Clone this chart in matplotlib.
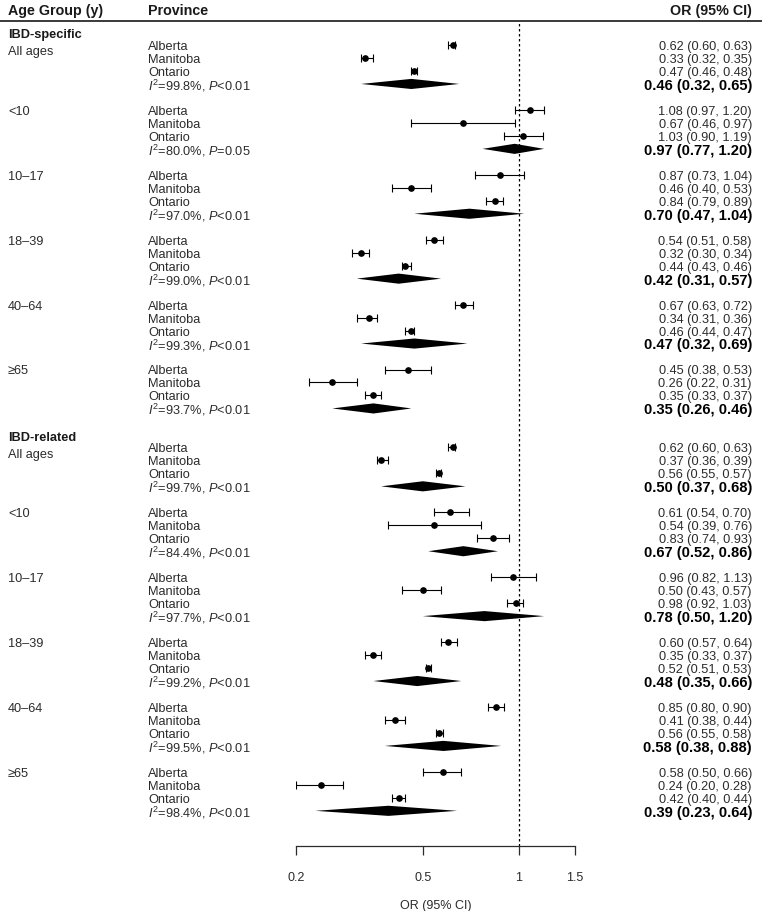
import matplotlib.pyplot as plt
import matplotlib.transforms as mtransforms
from matplotlib.lines import Line2D
from matplotlib.ticker import NullLocator

plt.rcParams['font.family'] = ['Liberation Sans', 'DejaVu Sans']
plt.rcParams['mathtext.fontset'] = 'custom'
plt.rcParams['mathtext.rm'] = 'Liberation Sans'
plt.rcParams['mathtext.it'] = 'Liberation Sans:italic'
plt.rcParams['mathtext.bf'] = 'Liberation Sans:bold'

outcomes = ['IBD-specific', 'IBD-related']
age_groups = ['All ages', '<10', '10–17', '18–39', '40–64', '≥65']
provinces = ['Alberta', 'Manitoba', 'Ontario']

# IBD-specific: rows = age groups, columns = Alberta, Manitoba, Ontario
spec_or = [[0.62, 0.33, 0.47], [1.08, 0.67, 1.03], [0.87, 0.46, 0.84],
           [0.54, 0.32, 0.44], [0.67, 0.34, 0.46], [0.45, 0.26, 0.35]]
spec_lo = [[0.60, 0.32, 0.46], [0.97, 0.46, 0.90], [0.73, 0.40, 0.79],
           [0.51, 0.30, 0.43], [0.63, 0.31, 0.44], [0.38, 0.22, 0.33]]
spec_hi = [[0.63, 0.35, 0.48], [1.20, 0.97, 1.19], [1.04, 0.53, 0.89],
           [0.58, 0.34, 0.46], [0.72, 0.36, 0.47], [0.53, 0.31, 0.37]]
spec_pool = [0.46, 0.97, 0.70, 0.42, 0.47, 0.35]
spec_pool_lo = [0.32, 0.77, 0.47, 0.31, 0.32, 0.26]
spec_pool_hi = [0.65, 1.20, 1.04, 0.57, 0.69, 0.46]
spec_i2 = [99.8, 80.0, 97.0, 99.0, 99.3, 93.7]
spec_p = ['<0.01', '=0.05', '<0.01', '<0.01', '<0.01', '<0.01']

# IBD-related
rel_or = [[0.62, 0.37, 0.56], [0.61, 0.54, 0.83], [0.96, 0.50, 0.98],
          [0.60, 0.35, 0.52], [0.85, 0.41, 0.56], [0.58, 0.24, 0.42]]
rel_lo = [[0.60, 0.36, 0.55], [0.54, 0.39, 0.74], [0.82, 0.43, 0.92],
          [0.57, 0.33, 0.51], [0.80, 0.38, 0.55], [0.50, 0.20, 0.40]]
rel_hi = [[0.63, 0.39, 0.57], [0.70, 0.76, 0.93], [1.13, 0.57, 1.03],
          [0.64, 0.37, 0.53], [0.90, 0.44, 0.58], [0.66, 0.28, 0.44]]
rel_pool = [0.50, 0.67, 0.78, 0.48, 0.58, 0.39]
rel_pool_lo = [0.37, 0.52, 0.50, 0.35, 0.38, 0.23]
rel_pool_hi = [0.68, 0.86, 1.20, 0.66, 0.88, 0.64]
rel_i2 = [99.7, 84.4, 97.7, 99.2, 99.5, 98.4]
rel_p = ['<0.01', '<0.01', '<0.01', '<0.01', '<0.01', '<0.01']

xticks = [0.2, 0.5, 1, 1.5]
xtick_labels = ['0.2', '0.5', '1', '1.5']

data = [
    (spec_or, spec_lo, spec_hi, spec_pool, spec_pool_lo, spec_pool_hi, spec_i2, spec_p),
    (rel_or, rel_lo, rel_hi, rel_pool, rel_pool_lo, rel_pool_hi, rel_i2, rel_p),
]

W, H = 762, 911
fig = plt.figure(figsize=(W / 100, H / 100), dpi=100)
ax = fig.add_axes([296 / W, 1 - 846 / H, 279 / W, (846 - 21) / H])
ax.set_xscale('log')
ax.set_xlim(0.2, 1.5)
ax.set_ylim(61.71, -1.85)

trans = mtransforms.blended_transform_factory(fig.transFigure, ax.transData)
x_age = 8 / W
x_prov = 148 / W
x_val = 752 / W
txt_col = '#2b2b2b'
fs = 9.2
dy = 0.15  # small nudge so text caps line up with the markers

# header
ax.text(x_age, -2.65, 'Age Group (y)', transform=trans, fontsize=10.3,
        fontweight='bold', va='center', ha='left', color='#1a1a1a')
ax.text(x_prov, -2.65, 'Province', transform=trans, fontsize=10.3,
        fontweight='bold', va='center', ha='left', color='#1a1a1a')
ax.text(x_val, -2.65, 'OR (95% CI)', transform=trans, fontsize=10.3,
        fontweight='bold', va='center', ha='right', color='#1a1a1a')
fig.add_artist(Line2D([0, 1], [1 - 21 / H] * 2, color='#3a3a3a', lw=1.4))

ax.axvline(1, color='black', ls=(0, (2, 2)), lw=0.9, zorder=1)

for k, (o, lo, hi, pool, plo, phi, i2, pv) in enumerate(data):
    base = 31 * k
    ax.text(x_age, base - 0.9 + dy, outcomes[k], transform=trans, fontsize=9.2,
            fontweight='bold', va='center', ha='left', color='#1a1a1a')
    for g, age in enumerate(age_groups):
        r0 = base + 5 * g
        ax.text(x_age, r0 + (0.4 if g == 0 else 0) + dy, age, transform=trans,
                fontsize=fs, va='center', ha='left', color=txt_col)
        for j, prov in enumerate(provinces):
            r = r0 + j
            est, l, h = o[g][j], lo[g][j], hi[g][j]
            ax.errorbar(est, r, xerr=[[est - l], [h - est]], fmt='o',
                        color='black', ms=3.8, elinewidth=0.8, capsize=3.2,
                        capthick=0.8, zorder=3)
            ax.text(x_prov, r + dy, prov, transform=trans, fontsize=fs,
                    va='center', ha='left', color=txt_col)
            ax.text(x_val, r + dy, f'{est:.2f} ({l:.2f}, {h:.2f})', transform=trans,
                    fontsize=fs, va='center', ha='right', color=txt_col)
        r = r0 + 3
        hh = 0.39
        ax.fill([plo[g], pool[g], phi[g], pool[g]], [r, r - hh, r, r + hh],
                color='black', lw=0, zorder=3)
        ax.text(x_prov, r + dy, r'$\mathit{I}^{\mathrm{2}}$' + f'={i2[g]:.1f}%, ' +
                r'$\mathit{P}$' + pv[g], transform=trans, fontsize=fs,
                va='center', ha='left', color=txt_col)
        ax.text(x_val, r + dy, f'{pool[g]:.2f} ({plo[g]:.2f}, {phi[g]:.2f})',
                transform=trans, fontsize=10.6, fontweight='bold',
                va='center', ha='right', color='black')

for s in ['left', 'right', 'top']:
    ax.spines[s].set_visible(False)
ax.spines['bottom'].set_color('#2b2b2b')
ax.spines['bottom'].set_linewidth(0.9)
ax.set_yticks([])
ax.set_xticks(xticks)
ax.set_xticklabels(xtick_labels)
ax.xaxis.set_minor_locator(NullLocator())
ax.tick_params(axis='x', length=6.5, width=0.9, color='#2b2b2b', pad=12,
               labelsize=9, labelcolor=txt_col)
ax.set_xlabel('OR (95% CI)', fontsize=9, color=txt_col, labelpad=12)

fig.savefig('out.png', dpi=100)
